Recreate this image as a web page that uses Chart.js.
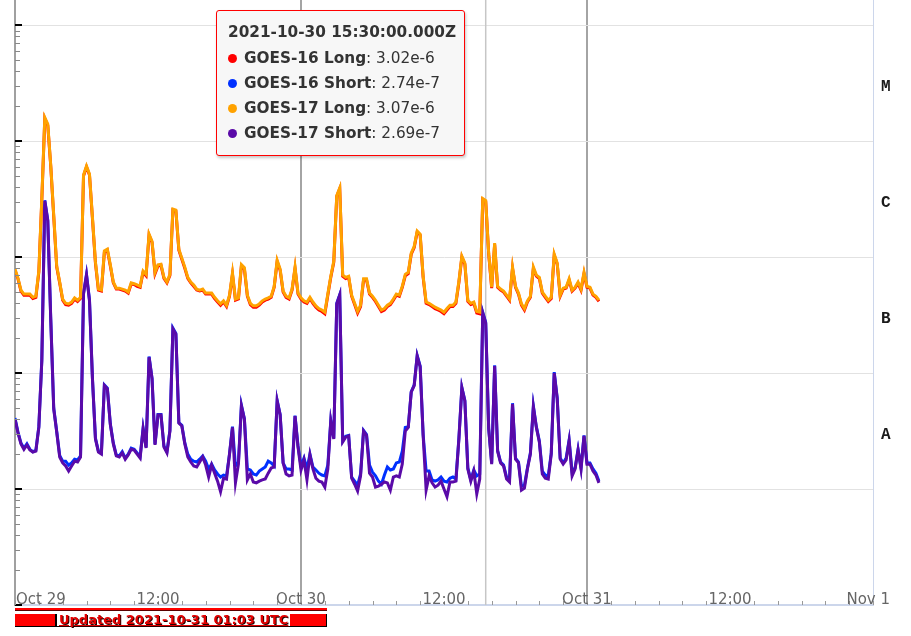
<!DOCTYPE html>
<html>
<head>
<meta charset="utf-8">
<script src="https://cdn.jsdelivr.net/npm/chart.js@4"></script>
<style>
html,body{margin:0;padding:0;background:#fff;overflow:hidden;}
#wrap{position:relative;width:911px;height:636px;}
#c{position:absolute;left:0;top:0;}
#tip{position:absolute;left:216px;top:10px;width:247px;height:144px;background:#f7f7f7;border:1px solid #ff0000;border-radius:3px;box-shadow:1px 2px 3px rgba(0,0,0,0.22);font-family:"DejaVu Sans",sans-serif;font-size:15.3px;color:#333;padding:0;box-sizing:content-box;}
#tip .t{position:absolute;left:11px;top:9px;font-weight:bold;line-height:25px;white-space:nowrap;}
#tip .r{position:absolute;left:11px;line-height:25px;white-space:nowrap;}
#tip .dot{display:inline-block;width:9px;height:9px;border-radius:50%;margin-right:7px;vertical-align:0px;}
#upd{position:absolute;left:15px;top:608px;width:312px;height:20px;}
#upd .top{height:2px;background:#ff0000;border-bottom:1px solid #5a0000;}
#upd .row{position:absolute;top:6px;left:0;width:311px;height:12px;display:flex;align-items:center;border-right:1px solid #000;border-bottom:1px solid #000;}
#upd .blk{height:12px;background:#ff0000;}
#upd .txt{font:bold 13px "DejaVu Sans",sans-serif;color:#e40000;text-decoration:underline;text-shadow:1px 1px 0 #2a0000;padding:0 2px;white-space:nowrap;line-height:12px;}
</style>
</head>
<body>
<div id="wrap">
<canvas id="c" width="911" height="636"></canvas>
<div id="tip"></div>
<div id="upd"><div class="top"></div><div class="row"><span class="blk" style="width:40px;border-right:2px solid #000"></span><span class="txt">Updated 2021-10-31 01:03 UTC</span><span class="blk" style="flex:1"></span></div></div>
</div>
<script>
// ---------- DATA ----------
// sample times: hours since 2021-10-29 00:00 UTC, 15-minute cadence
const times = Array.from({length: 197}, (_, i) => i * 0.25);

const xTickHours  = [0, 12, 24, 36, 48, 60, 72];
const xTickLabels = ['Oct 29', '12:00', 'Oct 30', '12:00', 'Oct 31', '12:00', 'Nov 1'];

const classLabels  = ['M', 'C', 'B', 'A'];
const classCenters = [3.162e-5, 3.162e-6, 3.162e-7, 3.162e-8];

const hoverHour = 39.5; // 2021-10-30 15:30 UTC

const g16Long = [
7.7e-7,6.5e-7,5.1e-7,4.7e-7,4.7e-7,4.7e-7,4.4e-7,4.5e-7,7.4e-7,3.1e-6,
1.57e-5,1.37e-5,6.1e-6,2.25e-6,8.2e-7,6.0e-7,4.25e-7,3.9e-7,3.85e-7,4.0e-7,
4.35e-7,4.15e-7,4.4e-7,5.0e-6,6.0e-6,5.1e-6,2.15e-6,8.9e-7,5.2e-7,5.1e-7,
1.1e-6,1.15e-6,8.4e-7,6.0e-7,5.3e-7,5.3e-7,5.2e-7,5.1e-7,4.9e-7,5.85e-7,
5.8e-7,5.6e-7,5.5e-7,7.4e-7,6.9e-7,1.55e-6,1.34e-6,7.2e-7,8.4e-7,8.5e-7,
6.55e-7,6.0e-7,6.95e-7,2.55e-6,2.5e-6,1.15e-6,9.6e-7,8.0e-7,6.55e-7,6.0e-7,
5.6e-7,5.2e-7,5.1e-7,5.2e-7,4.8e-7,4.8e-7,4.8e-7,4.4e-7,4.1e-7,3.85e-7,
4.1e-7,3.75e-7,4.6e-7,7.1e-7,4.25e-7,4.35e-7,8.4e-7,7.9e-7,4.6e-7,3.9e-7,
3.7e-7,3.7e-7,3.85e-7,4.1e-7,4.25e-7,4.35e-7,4.5e-7,5.5e-7,9.2e-7,7.7e-7,
5.0e-7,4.5e-7,4.35e-7,5.2e-7,8.0e-7,4.8e-7,4.35e-7,4.1e-7,4.0e-7,4.4e-7,
4.0e-7,3.7e-7,3.5e-7,3.4e-7,3.25e-7,4.7e-7,6.7e-7,9.0e-7,3.35e-6,3.9e-6,
6.85e-7,6.55e-7,6.7e-7,4.6e-7,3.9e-7,3.3e-7,3.75e-7,6.35e-7,6.35e-7,4.8e-7,
4.5e-7,4.15e-7,3.75e-7,3.4e-7,3.5e-7,3.75e-7,3.9e-7,4.25e-7,4.7e-7,4.6e-7,
5.5e-7,6.9e-7,7.2e-7,1.06e-6,1.21e-6,1.65e-6,1.55e-6,6.7e-7,4.0e-7,3.9e-7,
3.75e-7,3.6e-7,3.5e-7,3.4e-7,3.25e-7,3.5e-7,3.75e-7,3.75e-7,4.0e-7,6.05e-7,
1.0e-6,8.7e-7,4.15e-7,3.9e-7,4.0e-7,3.3e-7,3.25e-7,3.15e-6,3.02e-6,1.06e-6,
5.4e-7,1.29e-6,5.5e-7,5.2e-7,5.0e-7,4.6e-7,4.25e-7,8.0e-7,5.5e-7,4.8e-7,
3.85e-7,3.5e-7,4.1e-7,4.5e-7,8.0e-7,6.85e-7,6.55e-7,4.9e-7,4.5e-7,4.15e-7,
4.4e-7,1.04e-6,8.7e-7,4.6e-7,5.3e-7,5.4e-7,6.35e-7,5.1e-7,5.4e-7,5.95e-7,
5.2e-7,7.2e-7,5.5e-7,5.4e-7,4.7e-7,4.5e-7,4.15e-7
];

const g16Short = [
4.1e-8,3.1e-8,2.5e-8,2.25e-8,2.45e-8,2.2e-8,2.1e-8,2.15e-8,3.45e-8,1.3e-7,
3.1e-6,2.1e-6,2.95e-7,5.0e-8,3.15e-8,1.95e-8,1.74e-8,1.74e-8,1.61e-8,1.68e-8,
1.81e-8,1.78e-8,1.93e-8,4.9e-7,7.1e-7,4.3e-7,9.0e-8,2.75e-8,2.12e-8,2.05e-8,
7.9e-8,7.4e-8,3.65e-8,2.5e-8,1.97e-8,1.93e-8,2.1e-8,1.85e-8,2.0e-8,2.25e-8,
2.2e-8,2.05e-8,1.9e-8,3.35e-8,2.3e-8,1.39e-7,9.0e-8,2.45e-8,4.4e-8,4.4e-8,
2.35e-8,2.1e-8,3.2e-8,2.45e-7,2.2e-7,3.75e-8,3.55e-8,2.5e-8,2.0e-8,1.81e-8,
1.74e-8,1.71e-8,1.81e-8,1.93e-8,1.74e-8,1.49e-8,1.64e-8,1.46e-8,1.35e-8,1.27e-8,
1.32e-8,1.3e-8,2.0e-8,3.45e-8,1.58e-8,1.71e-8,5.3e-8,4.05e-8,1.49e-8,1.46e-8,
1.35e-8,1.32e-8,1.43e-8,1.49e-8,1.55e-8,1.74e-8,1.68e-8,1.58e-8,5.8e-8,4.4e-8,
1.68e-8,1.49e-8,1.49e-8,1.46e-8,4.3e-8,2.35e-8,1.58e-8,1.85e-8,1.49e-8,2.0e-8,
1.55e-8,1.46e-8,1.37e-8,1.32e-8,1.3e-8,1.61e-8,3.9e-8,2.75e-8,4.0e-7,4.75e-7,
2.6e-8,2.85e-8,2.9e-8,1.27e-8,1.17e-8,1.08e-8,1.35e-8,3.2e-8,2.95e-8,1.61e-8,
1.4e-8,1.3e-8,1.17e-8,1.1e-8,1.32e-8,1.55e-8,1.46e-8,1.49e-8,1.68e-8,1.71e-8,
2.12e-8,3.4e-8,3.45e-8,6.9e-8,7.9e-8,1.42e-7,1.15e-7,2.95e-8,1.43e-8,1.43e-8,
1.2e-8,1.17e-8,1.2e-8,1.27e-8,1.17e-8,1.15e-8,1.24e-8,1.27e-8,1.22e-8,2.75e-8,
7.5e-8,5.8e-8,1.52e-8,1.2e-8,1.46e-8,1.3e-8,1.35e-8,3.35e-7,2.74e-7,3.35e-8,
1.68e-8,1.17e-7,2.15e-8,1.71e-8,1.61e-8,1.27e-8,1.22e-8,5.5e-8,1.85e-8,1.71e-8,
1.06e-8,1.08e-8,1.52e-8,2.05e-8,5.2e-8,3.45e-8,2.6e-8,1.43e-8,1.32e-8,1.3e-8,
2.05e-8,1.02e-7,6.1e-8,1.85e-8,1.68e-8,1.85e-8,2.65e-8,1.4e-8,1.52e-8,2.2e-8,
1.52e-8,2.9e-8,1.68e-8,1.68e-8,1.49e-8,1.37e-8,1.17e-8
];

const g17Long = [
7.9e-7,6.6e-7,5.2e-7,4.8e-7,4.8e-7,4.8e-7,4.5e-7,4.6e-7,7.6e-7,3.2e-6,
1.6e-5,1.4e-5,6.2e-6,2.3e-6,8.4e-7,6.1e-7,4.35e-7,4.0e-7,3.95e-7,4.1e-7,
4.45e-7,4.25e-7,4.5e-7,5.1e-6,6.1e-6,5.2e-6,2.2e-6,9.1e-7,5.3e-7,5.2e-7,
1.13e-6,1.17e-6,8.6e-7,6.1e-7,5.4e-7,5.4e-7,5.3e-7,5.2e-7,5.0e-7,6.0e-7,
5.9e-7,5.75e-7,5.6e-7,7.6e-7,7.1e-7,1.58e-6,1.37e-6,7.4e-7,8.6e-7,8.7e-7,
6.7e-7,6.1e-7,7.1e-7,2.6e-6,2.55e-6,1.17e-6,9.8e-7,8.2e-7,6.7e-7,6.1e-7,
5.75e-7,5.3e-7,5.2e-7,5.3e-7,4.9e-7,4.9e-7,4.9e-7,4.5e-7,4.2e-7,3.95e-7,
4.2e-7,3.85e-7,4.7e-7,7.3e-7,4.35e-7,4.45e-7,8.6e-7,8.1e-7,4.7e-7,4.0e-7,
3.8e-7,3.8e-7,3.95e-7,4.2e-7,4.35e-7,4.45e-7,4.6e-7,5.6e-7,9.4e-7,7.9e-7,
5.1e-7,4.6e-7,4.45e-7,5.3e-7,8.2e-7,4.9e-7,4.45e-7,4.2e-7,4.1e-7,4.5e-7,
4.1e-7,3.8e-7,3.6e-7,3.5e-7,3.35e-7,4.8e-7,6.85e-7,9.25e-7,3.4e-6,3.95e-6,
7.0e-7,6.7e-7,6.85e-7,4.7e-7,4.0e-7,3.4e-7,3.85e-7,6.5e-7,6.5e-7,4.9e-7,
4.6e-7,4.25e-7,3.85e-7,3.5e-7,3.6e-7,3.85e-7,4.0e-7,4.35e-7,4.8e-7,4.7e-7,
5.6e-7,7.1e-7,7.4e-7,1.08e-6,1.24e-6,1.68e-6,1.58e-6,6.85e-7,4.1e-7,4.0e-7,
3.85e-7,3.7e-7,3.6e-7,3.5e-7,3.35e-7,3.6e-7,3.85e-7,3.85e-7,4.1e-7,6.2e-7,
1.02e-6,8.9e-7,4.25e-7,4.0e-7,4.1e-7,3.4e-7,3.35e-7,3.2e-6,3.07e-6,1.08e-6,
5.5e-7,1.32e-6,5.6e-7,5.3e-7,5.1e-7,4.7e-7,4.35e-7,8.2e-7,5.6e-7,4.9e-7,
3.95e-7,3.6e-7,4.2e-7,4.6e-7,8.2e-7,7.0e-7,6.7e-7,5.0e-7,4.6e-7,4.25e-7,
4.5e-7,1.06e-6,8.9e-7,4.7e-7,5.4e-7,5.5e-7,6.5e-7,5.2e-7,5.5e-7,6.1e-7,
5.3e-7,7.4e-7,5.6e-7,5.5e-7,4.8e-7,4.6e-7,4.25e-7
];

const g17Short = [
4.0e-8,3.05e-8,2.45e-8,2.2e-8,2.4e-8,2.17e-8,2.08e-8,2.12e-8,3.4e-8,1.27e-7,
3.05e-6,2.05e-6,2.9e-7,4.9e-8,3.1e-8,1.89e-8,1.68e-8,1.58e-8,1.43e-8,1.58e-8,
1.74e-8,1.71e-8,1.89e-8,4.8e-7,7.0e-7,4.2e-7,8.9e-8,2.7e-8,2.08e-8,2.0e-8,
7.8e-8,7.3e-8,3.6e-8,2.45e-8,1.93e-8,1.89e-8,2.05e-8,1.81e-8,1.97e-8,2.2e-8,
2.17e-8,2.0e-8,1.85e-8,3.3e-8,2.26e-8,1.37e-7,8.9e-8,2.4e-8,4.35e-8,4.35e-8,
2.3e-8,2.05e-8,3.16e-8,2.4e-7,2.17e-7,3.7e-8,3.5e-8,2.45e-8,1.89e-8,1.71e-8,
1.58e-8,1.55e-8,1.71e-8,1.89e-8,1.61e-8,1.27e-8,1.61e-8,1.37e-8,1.17e-8,9.5e-9,
1.24e-8,1.22e-8,2.0e-8,3.4e-8,1.13e-8,1.64e-8,5.2e-8,4.0e-8,1.2e-8,1.35e-8,
1.15e-8,1.13e-8,1.17e-8,1.2e-8,1.22e-8,1.37e-8,1.52e-8,1.55e-8,5.75e-8,4.35e-8,
1.68e-8,1.35e-8,1.3e-8,1.32e-8,4.25e-8,2.3e-8,1.46e-8,1.78e-8,1.2e-8,1.97e-8,
1.49e-8,1.24e-8,1.17e-8,1.15e-8,1.04e-8,1.49e-8,3.85e-8,2.7e-8,3.95e-7,4.7e-7,
2.55e-8,2.8e-8,2.87e-8,1.24e-8,1.1e-8,9.6e-9,1.3e-8,3.16e-8,2.9e-8,1.37e-8,
1.27e-8,1.04e-8,1.06e-8,1.1e-8,1.15e-8,1.13e-8,9.8e-9,1.27e-8,1.3e-8,1.27e-8,
1.64e-8,3.16e-8,3.4e-8,6.85e-8,7.8e-8,1.4e-7,1.13e-7,2.9e-8,9.8e-9,1.3e-8,
1.13e-8,1.04e-8,1.08e-8,1.17e-8,1.0e-8,8.6e-9,1.15e-8,1.15e-8,1.17e-8,2.7e-8,
7.45e-8,5.75e-8,1.49e-8,1.17e-8,1.43e-8,9.1e-9,1.22e-8,3.3e-7,2.69e-7,3.3e-8,
1.64e-8,1.15e-7,2.12e-8,1.68e-8,1.58e-8,1.22e-8,1.15e-8,5.4e-8,1.81e-8,1.68e-8,
9.8e-9,1.02e-8,1.49e-8,2.0e-8,5.1e-8,3.4e-8,2.55e-8,1.35e-8,1.24e-8,1.22e-8,
2.0e-8,1.0e-7,6.0e-8,1.81e-8,1.64e-8,1.78e-8,2.6e-8,1.3e-8,1.49e-8,2.17e-8,
1.49e-8,2.87e-8,1.64e-8,1.64e-8,1.43e-8,1.32e-8,1.13e-8
];

const seriesNames  = ['GOES-16 Long', 'GOES-16 Short', 'GOES-17 Long', 'GOES-17 Short'];
const seriesColors = ['#ff0000', '#0030ff', '#ffa200', '#5a0aa8'];
const seriesValues = [g16Long, g16Short, g17Long, g17Short];
const seriesOrder  = [1, 1, 0, 0];

// ---------- CHART ----------
const toPoints = arr => times.map((t, i) => ({x: t, y: arr[i]}));

const marks = {
  id: 'marks',
  beforeDatasetsDraw(chart) {
    const {ctx, chartArea: a, scales: {x}} = chart;
    const px = x.getPixelForValue(hoverHour);
    ctx.save();
    ctx.strokeStyle = '#c6c6c6';
    ctx.lineWidth = 1.5;
    ctx.beginPath(); ctx.moveTo(px, a.top); ctx.lineTo(px, a.bottom); ctx.stroke();
    ctx.restore();
  },
  afterDraw(chart) {
    const {ctx, chartArea: a, scales: {x, y}} = chart;
    ctx.save();
    y.ticks.forEach(t => {
      const py = Math.round(y.getPixelForValue(t.value));
      if (py < a.top || py > a.bottom + 1) return;
      ctx.beginPath();
      if (t.major) {
        ctx.strokeStyle = '#000'; ctx.lineWidth = 2;
        ctx.moveTo(a.left, py); ctx.lineTo(a.left + 7, py);
      } else {
        ctx.strokeStyle = '#888'; ctx.lineWidth = 1;
        ctx.moveTo(a.left, py + 0.5); ctx.lineTo(a.left + 5, py + 0.5);
      }
      ctx.stroke();
    });
    x.ticks.forEach(t => {
      const px = Math.round(x.getPixelForValue(t.value)) + 0.5;
      ctx.beginPath(); ctx.strokeStyle = '#999'; ctx.lineWidth = 1;
      ctx.moveTo(px, a.bottom); ctx.lineTo(px, a.bottom - 4); ctx.stroke();
    });
    ctx.font = '15px "DejaVu Sans"';
    ctx.fillStyle = '#666';
    ctx.textBaseline = 'alphabetic';
    xTickHours.forEach((h, i) => {
      const label = xTickLabels[i];
      const w = ctx.measureText(label).width;
      let left = x.getPixelForValue(h) - w / 2;
      left = Math.max(left, a.left + 1);
      left = Math.min(left, 890 - w);
      ctx.fillText(label, left, a.bottom - 1);
    });
    ctx.restore();
  }
};

const chart = new Chart(document.getElementById('c'), {
  type: 'line',
  data: {
    datasets: seriesNames.map((name, k) => ({
      label: name,
      data: toPoints(seriesValues[k]),
      borderColor: seriesColors[k],
      backgroundColor: seriesColors[k],
      borderWidth: 3,
      pointRadius: 0,
      tension: 0,
      fill: false,
      order: seriesOrder[k]
    }))
  },
  options: {
    responsive: false,
    animation: false,
    devicePixelRatio: 1,
    layout: {padding: 0},
    plugins: {legend: {display: false}, tooltip: {enabled: false}, title: {display: false}},
    scales: {
      x: {
        type: 'linear', position: 'bottom', min: 0, max: 72,
        ticks: {display: false, stepSize: 2},
        grid: {
          drawTicks: false,
          color: c => (c.tick && (c.tick.value === 24 || c.tick.value === 48)) ? '#a4a4a4' : 'rgba(0,0,0,0)',
          lineWidth: 2
        },
        border: {display: true, color: '#ccd6eb', width: 2},
        afterFit: s => { s.height = 31; s.paddingLeft = 0; s.paddingRight = 0; }
      },
      y: {
        type: 'logarithmic', position: 'left', min: 1e-9, max: 1.65e-4,
        ticks: {display: false},
        afterBuildTicks: s => {
          const t = [];
          for (let e = -9; e <= -4; e++) {
            for (let k = 1; k <= 9; k++) {
              const v = k * Math.pow(10, e);
              if (v <= s.max) t.push({value: v, major: k === 1});
            }
          }
          s.ticks = t;
        },
        grid: {
          drawTicks: false,
          color: c => (c.tick && c.tick.major) ? '#e2e2e2' : 'rgba(0,0,0,0)',
          lineWidth: 1
        },
        border: {display: true, color: '#a0a0a0', width: 2},
        afterFit: s => { s.width = 15; s.paddingTop = 0; s.paddingBottom = 0; }
      },
      y2: {
        type: 'logarithmic', position: 'right', min: 1e-9, max: 1.65e-4,
        afterBuildTicks: s => { s.ticks = classCenters.map(v => ({value: v})); },
        ticks: {
          callback: (v, i) => classLabels[i],
          font: {family: 'Liberation Mono', weight: 'bold', size: 16},
          color: '#1a1a1a',
          padding: 8,
          labelOffset: 4
        },
        grid: {display: false, drawTicks: false},
        border: {display: true, color: '#ccd6eb', width: 1},
        afterFit: s => { s.width = 38; s.paddingTop = 0; s.paddingBottom = 0; }
      }
    }
  },
  plugins: [marks]
});

// ---------- TOOLTIP (HTML) ----------
const idx = times.indexOf(hoverHour);
const tip = document.getElementById('tip');
const title = new Date(Date.UTC(2021, 9, 29) + hoverHour * 3600e3).toISOString().replace('T', ' ');
let html = '<div class="t">' + title + '</div>';
seriesNames.forEach((n, k) => {
  const v = seriesValues[k][idx].toExponential(2);
  html += '<div class="r" style="top:' + (35 + k * 25) + 'px"><span class="dot" style="background:' + seriesColors[k] + '"></span><b>' + n + '</b>: ' + v + '</div>';
});
tip.innerHTML = html;
</script>
</body>
</html>
